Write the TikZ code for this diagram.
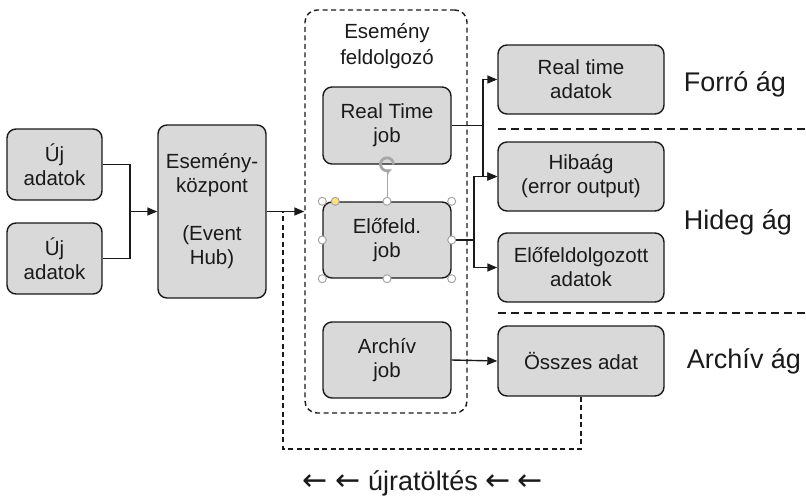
\documentclass[tikz,border=0pt]{standalone}
\usepackage{fontspec}
\setmainfont{Liberation Sans}
\newfontfamily\arrowfont{DejaVu Sans}
\usetikzlibrary{arrows.meta,calc}
\definecolor{boxfill}{HTML}{D9D9D9}
\definecolor{ink}{HTML}{1A1A1A}
\definecolor{handlegray}{HTML}{A6A6A6}
\definecolor{handleyellow}{HTML}{FFE27A}
\newcommand{\larr}{{\arrowfont\fontsize{30}{30}\selectfont ←}}
\begin{document}
\begin{tikzpicture}[x=1pt,y=-1pt,
  box/.style={draw=ink, fill=boxfill, line width=1.4pt, rounded corners=9pt,
    align=center, inner sep=0pt, text=ink,
    font=\fontsize{20.5}{24}\selectfont},
  wire/.style={draw=ink, line width=1.4pt},
  flow/.style={wire, -{Triangle[length=10pt,width=8pt]}},
  frame/.style={draw=ink, line width=1.4pt, dash pattern=on 5pt off 3.5pt},
  sep/.style={draw=ink, line width=1.4pt, dash pattern=on 8pt off 5pt},
  branch/.style={text=ink, font=\fontsize{27}{30}\selectfont},
  handle/.style={draw=handlegray, fill=white, line width=1pt}
]
\useasboundingbox (0,0) rectangle (806,499);

% incoming data and the event hub
\node[box, minimum width=95pt, minimum height=71pt] (uj1) at (54.5,164.5) {Új\\adatok};
\node[box, minimum width=95pt, minimum height=71pt] (uj2) at (54.5,258.5) {Új\\adatok};
\node[box, minimum width=108pt, minimum height=173pt] (hub) at (212,211.5)
  {Esemény-\\központ\\[24pt](Event\\Hub)};

% event processor frame with its jobs
\node[frame, rounded corners=12pt, minimum width=162pt, minimum height=403pt] (proc) at (386,211.5) {};
\node[text=ink, align=center, font=\fontsize{20.5}{26}\selectfont] (proctitle) at (387,46) {Esemény\\feldolgozó};
\node[box, minimum width=128pt, minimum height=77pt] (rtjob) at (387,125.5) {Real Time\\job};
\node[box, minimum width=128pt, minimum height=76pt] (pre) at (387,240) {Előfeld.\\job};
\node[box, minimum width=128pt, minimum height=76pt] (arch) at (387,360) {Archív\\job};

% outputs
\node[box, minimum width=166pt, minimum height=69pt] (rtdata) at (581,79.5) {Real time\\adatok};
\node[box, minimum width=166pt, minimum height=69pt] (err) at (581,176.5) {Hibaág\\(error output)};
\node[box, minimum width=166pt, minimum height=69pt] (predata) at (581,267.5) {Előfeldolgozott\\adatok};
\node[box, minimum width=166pt, minimum height=70pt] (all) at (581,361) {Összes adat};

% branch labels and separators
\node[branch] (hot) at (735,84) {Forró ág};
\node[branch] (cold) at (738,222) {Hideg ág};
\node[branch] (archl) at (744,361) {Archív ág};
\coordinate (s1a) at (498,129);
\coordinate (s1b) at (806,129);
\coordinate (s2a) at (498,313);
\coordinate (s2b) at (806,313);
\draw[sep] (s1a) -- (s1b);
\draw[sep] (s2a) -- (s2b);

% connectors
\coordinate (j1) at (130,211.5);
\draw[wire] (uj1.east) -| (j1);
\draw[wire] (uj2.east) -| (j1);
\draw[flow] (j1) -- (hub.west);
\draw[flow] (hub.east) -- (proc.west);

\coordinate (s1) at (483,125.5);
\coordinate (s2) at (474,240);
\draw[wire] (rtjob.east) -- (s1);
\draw[flow] (s1) |- (rtdata.west);
\draw[flow] (s1) |- (err.west);
\draw[wire] (pre.east) -- (s2);
\draw[flow] (s2) |- (err.west);
\draw[flow] (s2) |- (predata.west);
\draw[flow] (arch.east) -- (all.west);

% reload loop
\coordinate (r1) at (283,211.5);
\coordinate (r2) at (283,449);
\draw[frame] (all.south) |- (r2) -- (r1);
\node[text=ink, font=\fontsize{27}{30}\selectfont] (reload) at (423,483)
  {\larr{} \larr{} újratöltés \larr{} \larr};

% selection handles around the pre-processing job
\draw[handlegray, line width=1pt] (pre.north) -- ++(0,-30);
\draw[handlegray, line width=2.8pt, -{Stealth[length=5pt,width=7pt]}]
  ($(pre.north)+(6.5,-37)$) arc[start angle=0, end angle=300, radius=6.5pt];
\foreach \a in {north west,north,north east,west,east,south west,south,south east}
  \draw[handle] (pre.\a) circle[radius=4pt];
\draw[handle, fill=handleyellow] ($(pre.north west)+(13,0)$) circle[radius=4pt];
\end{tikzpicture}
\end{document}
